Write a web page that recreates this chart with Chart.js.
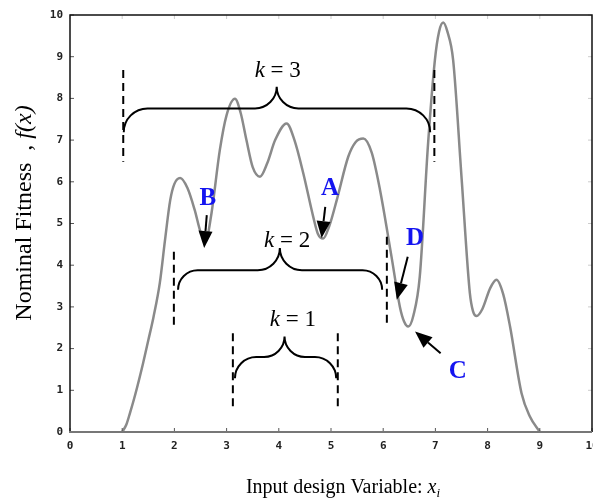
<!DOCTYPE html>
<html>
<head>
<meta charset="utf-8">
<script src="https://cdn.jsdelivr.net/npm/chart.js@4"></script>
<style>
  html, body { margin: 0; padding: 0; background: #fff; }
  canvas { display: block; }
</style>
</head>
<body>
<canvas id="fitnessChart" width="593" height="503"></canvas>
<script>
// curve samples
const xValues = [1.0, 1.08, 1.15, 1.25, 1.40, 1.50, 1.60, 1.72, 1.82, 1.92, 2.0, 2.11, 2.25, 2.39, 2.5, 2.6,
  2.71, 2.87, 3.0, 3.16, 3.27, 3.38, 3.5, 3.64, 3.78, 3.93, 4.15, 4.3, 4.47, 4.66, 4.75, 4.85, 4.97, 5.11,
  5.33, 5.47, 5.62, 5.78, 5.94, 6.16, 6.32, 6.4, 6.48, 6.58, 6.70, 6.86, 6.99, 7.07, 7.15, 7.23, 7.34, 7.50,
  7.66, 7.72, 7.79, 7.9, 8.05, 8.17, 8.3, 8.43, 8.65, 8.81, 9.0];
const fitness = [0, 0.18, 0.46, 0.9, 1.65, 2.2, 2.76, 3.57, 4.6, 5.56, 5.95, 6.09, 5.85, 5.32, 4.8, 4.6,
  5.24, 6.76, 7.6, 7.99, 7.65, 7.0, 6.35, 6.12, 6.45, 7.0, 7.4, 7.0, 6.2, 5.16, 4.75, 4.64, 4.95, 5.56,
  6.6, 6.95, 7.04, 6.7, 5.8, 4.2, 3.0, 2.65, 2.53, 2.8, 3.72, 6.92, 8.92, 9.6, 9.82, 9.6, 8.92, 6.12,
  3.33, 2.9, 2.78, 2.95, 3.45, 3.65, 3.3, 2.53, 0.93, 0.37, 0];
const tickValues = [0, 1, 2, 3, 4, 5, 6, 7, 8, 9, 10];

// neighbourhood braces (data units)
const braces = [
  { label: "3", xL: 1.03, xR: 6.90, xC: 3.96, yEnd: 7.19, yH: 7.76, yTop: 8.28, dashL: 1.02, dashR: 6.98, dashTopL: 8.68, dashBotL: 6.48, dashTopR: 8.68, dashBotR: 6.48, lx: 3.98, ly: 8.51 },
  { label: "2", xL: 2.07, xR: 5.98, xC: 4.02, yEnd: 3.41, yH: 3.88, yTop: 4.41, dashL: 1.99, dashR: 6.07, dashTopL: 4.32, dashBotL: 2.49, dashTopR: 4.68, dashBotR: 2.53, lx: 4.16, ly: 4.44 },
  { label: "1", xL: 3.16, xR: 5.10, xC: 4.11, yEnd: 1.29, yH: 1.80, yTop: 2.29, dashL: 3.12, dashR: 5.13, dashTopL: 2.37, dashBotL: 0.53, dashTopR: 2.37, dashBotR: 0.53, lx: 4.27, ly: 2.53 }
];

// labelled arrows (data units)
const pointers = [
  { name: "B", x0: 2.62, y0: 5.20, x1: 2.57, y1: 4.41, lx: 2.64, ly: 5.61 },
  { name: "A", x0: 4.89, y0: 5.40, x1: 4.82, y1: 4.65, lx: 4.98, ly: 5.85 },
  { name: "D", x0: 6.47, y0: 4.20, x1: 6.26, y1: 3.17, lx: 6.61, ly: 4.65 },
  { name: "C", x0: 7.10, y0: 1.89, x1: 6.61, y1: 2.41, lx: 7.43, ly: 1.45 }
];

const serif = '"Liberation Serif", "Times New Roman", serif';

function drawBrace(ctx, xs, ys, b) {
  const xL = xs.getPixelForValue(b.xL), xR = xs.getPixelForValue(b.xR), xC = xs.getPixelForValue(b.xC);
  const yE = ys.getPixelForValue(b.yEnd), yH = ys.getPixelForValue(b.yH), yT = ys.getPixelForValue(b.yTop);
  const r = yE - yH, q = yH - yT, k = 0.55;
  ctx.beginPath();
  ctx.moveTo(xL, yE);
  ctx.bezierCurveTo(xL, yE - k * r, xL + r - k * r, yH, xL + r, yH);
  ctx.lineTo(xC - q, yH);
  ctx.bezierCurveTo(xC - q + k * q, yH, xC, yH - q + k * q, xC, yT);
  ctx.bezierCurveTo(xC, yH - q + k * q, xC + q - k * q, yH, xC + q, yH);
  ctx.lineTo(xR - r, yH);
  ctx.bezierCurveTo(xR - r + k * r, yH, xR, yE - k * r, xR, yE);
  ctx.stroke();

  ctx.save();
  ctx.setLineDash([8, 5]);
  ctx.beginPath();
  ctx.moveTo(xs.getPixelForValue(b.dashL), ys.getPixelForValue(b.dashTopL));
  ctx.lineTo(xs.getPixelForValue(b.dashL), ys.getPixelForValue(b.dashBotL));
  ctx.moveTo(xs.getPixelForValue(b.dashR), ys.getPixelForValue(b.dashTopR));
  ctx.lineTo(xs.getPixelForValue(b.dashR), ys.getPixelForValue(b.dashBotR));
  ctx.stroke();
  ctx.restore();

  // "k = n" label
  const lx = xs.getPixelForValue(b.lx), ly = ys.getPixelForValue(b.ly);
  ctx.textBaseline = "alphabetic";
  ctx.textAlign = "left";
  ctx.font = "italic 23px " + serif;
  const kw = ctx.measureText("k").width;
  ctx.font = "23px " + serif;
  const rest = " = " + b.label;
  const rw = ctx.measureText(rest).width;
  const start = lx - (kw + rw) / 2;
  ctx.font = "italic 23px " + serif;
  ctx.fillText("k", start, ly);
  ctx.font = "23px " + serif;
  ctx.fillText(rest, start + kw, ly);
}

function drawPointer(ctx, xs, ys, p) {
  const x0 = xs.getPixelForValue(p.x0), y0 = ys.getPixelForValue(p.y0);
  const x1 = xs.getPixelForValue(p.x1), y1 = ys.getPixelForValue(p.y1);
  const ang = Math.atan2(y1 - y0, x1 - x0);
  const len = 17, half = 7;
  const bx = x1 - len * Math.cos(ang), by = y1 - len * Math.sin(ang);
  ctx.beginPath();
  ctx.moveTo(x0, y0);
  ctx.lineTo(bx, by);
  ctx.stroke();
  ctx.beginPath();
  ctx.moveTo(x1, y1);
  ctx.lineTo(bx + half * Math.sin(ang), by - half * Math.cos(ang));
  ctx.lineTo(bx - half * Math.sin(ang), by + half * Math.cos(ang));
  ctx.closePath();
  ctx.fill();

  ctx.save();
  ctx.fillStyle = "#1414f0";
  ctx.font = "bold 25px " + serif;
  ctx.textAlign = "center";
  ctx.textBaseline = "middle";
  ctx.fillText(p.name, xs.getPixelForValue(p.lx), ys.getPixelForValue(p.ly));
  ctx.restore();
}

const decorations = {
  id: "decorations",
  afterDraw(chart) {
    const ctx = chart.ctx;
    const { left, right, top, bottom } = chart.chartArea;
    const xs = chart.scales.x, ys = chart.scales.y;
    ctx.save();

    // small inward ticks
    ctx.lineWidth = 1;
    tickValues.forEach((v) => {
      const px = xs.getPixelForValue(v), py = ys.getPixelForValue(v);
      ctx.strokeStyle = "#555";
      ctx.beginPath();
      ctx.moveTo(px, bottom); ctx.lineTo(px, bottom - 4);
      ctx.moveTo(left, py); ctx.lineTo(left + 4, py);
      ctx.stroke();
      ctx.strokeStyle = "#ccc";
      ctx.beginPath();
      ctx.moveTo(px, top); ctx.lineTo(px, top + 4);
      ctx.moveTo(right, py); ctx.lineTo(right - 4, py);
      ctx.stroke();
    });

    // frame
    ctx.strokeStyle = "#111";
    ctx.lineWidth = 1.5;
    ctx.beginPath();
    ctx.moveTo(left, bottom); ctx.lineTo(left, top); ctx.lineTo(right, top); ctx.lineTo(right, bottom);
    ctx.stroke();
    ctx.strokeStyle = "#777";
    ctx.lineWidth = 2;
    ctx.beginPath();
    ctx.moveTo(left - 1, bottom); ctx.lineTo(right, bottom);
    ctx.stroke();

    // braces, dashed bounds and arrows
    ctx.strokeStyle = "#000";
    ctx.fillStyle = "#000";
    ctx.lineWidth = 2;
    braces.forEach((b) => drawBrace(ctx, xs, ys, b));
    pointers.forEach((p) => drawPointer(ctx, xs, ys, p));

    // x axis title
    ctx.fillStyle = "#000";
    ctx.textBaseline = "alphabetic";
    ctx.textAlign = "left";
    ctx.font = "20px " + serif;
    const xt = "Input design Variable: ";
    const w1 = ctx.measureText(xt).width;
    ctx.font = "italic 20px " + serif;
    const w2 = ctx.measureText("x").width;
    ctx.font = "italic 13px " + serif;
    const w3 = ctx.measureText("i").width;
    let sx = 343 - (w1 + w2 + w3) / 2;
    ctx.font = "20px " + serif;
    ctx.fillText(xt, sx, 493);
    ctx.font = "italic 20px " + serif;
    ctx.fillText("x", sx + w1, 493);
    ctx.font = "italic 13px " + serif;
    ctx.fillText("i", sx + w1 + w2, 497);

    // y axis title
    ctx.save();
    ctx.translate(31, 213);
    ctx.rotate(-Math.PI / 2);
    ctx.font = "24px " + serif;
    const yt = "Nominal Fitness  , ";
    const yw1 = ctx.measureText(yt).width;
    ctx.font = "italic 24px " + serif;
    const yw2 = ctx.measureText("f(x)").width;
    const sy = -(yw1 + yw2) / 2;
    ctx.font = "24px " + serif;
    ctx.fillText(yt, sy, 0);
    ctx.font = "italic 24px " + serif;
    ctx.fillText("f(x)", sy + yw1, 0);
    ctx.restore();

    ctx.restore();
  }
};

const tickFont = { family: '"DejaVu Sans Mono", monospace', size: 11, weight: "bold" };

new Chart(document.getElementById("fitnessChart"), {
  type: "line",
  data: {
    datasets: [
      {
        label: "f(x)",
        data: xValues.map((x, i) => ({ x, y: fitness[i] })),
        borderColor: "#8a8a8a",
        borderWidth: 2.5,
        pointRadius: 0,
        fill: false,
        cubicInterpolationMode: "monotone",
      },
    ],
  },
  options: {
    responsive: false,
    animation: false,
    devicePixelRatio: 1,
    layout: { padding: { top: 15, right: 1, left: 0, bottom: 0 } },
    plugins: {
      legend: { display: false },
      tooltip: { enabled: false },
    },
    scales: {
      x: {
        type: "linear",
        min: 0,
        max: 10,
        grid: { display: false, drawTicks: false },
        border: { display: false },
        ticks: { stepSize: 1, font: tickFont, color: "#222", padding: 8, maxRotation: 0 },
        afterFit: (s) => {
          s.height = 71;
          s.paddingLeft = 0;
          s.paddingRight = 0;
        },
      },
      y: {
        min: 0,
        max: 10,
        grid: { display: false, drawTicks: false },
        border: { display: false },
        ticks: { stepSize: 1, font: tickFont, color: "#222", padding: 7 },
        afterFit: (s) => {
          s.width = 70;
          s.paddingTop = 0;
          s.paddingBottom = 0;
        },
      },
    },
  },
  plugins: [decorations],
});
</script>
</body>
</html>
